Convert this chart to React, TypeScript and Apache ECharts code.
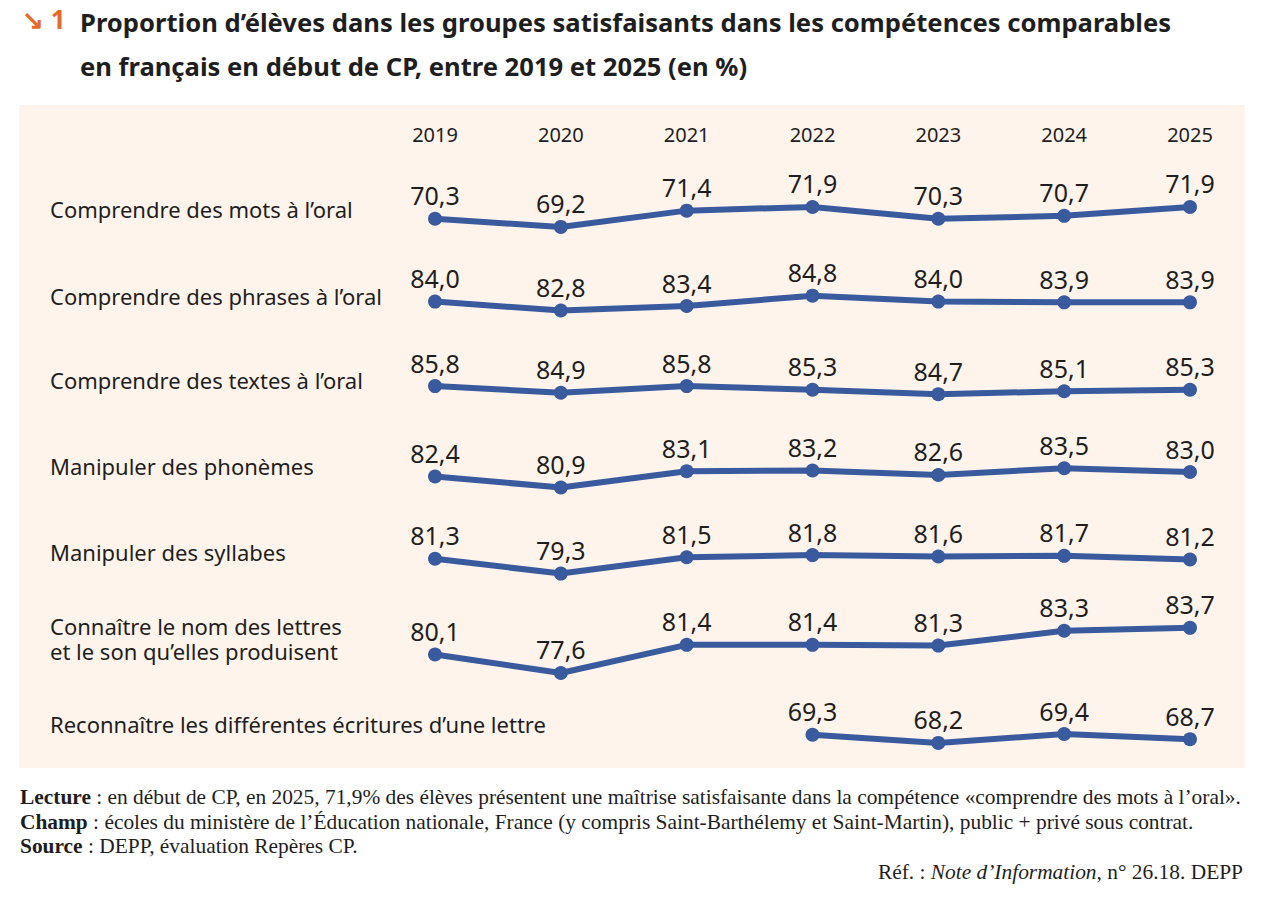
import React, { useEffect, useRef } from "react";
import * as echarts from "echarts";

// Years shown as columns
const years = ["2019", "2020", "2021", "2022", "2023", "2024", "2025"];

// Competences (one row each); a row label may hold several lines
const competences: string[][] = [
  ["Comprendre des mots à l’oral"],
  ["Comprendre des phrases à l’oral"],
  ["Comprendre des textes à l’oral"],
  ["Manipuler des phonèmes"],
  ["Manipuler des syllabes"],
  ["Connaître le nom des lettres", "et le son qu’elles produisent"],
  ["Reconnaître les différentes écritures d’une lettre"],
];

// Share of pupils in the satisfactory groups (%), by competence and year
const motsOral = [70.3, 69.2, 71.4, 71.9, 70.3, 70.7, 71.9];
const phrasesOral = [84.0, 82.8, 83.4, 84.8, 84.0, 83.9, 83.9];
const textesOral = [85.8, 84.9, 85.8, 85.3, 84.7, 85.1, 85.3];
const phonemes = [82.4, 80.9, 83.1, 83.2, 82.6, 83.5, 83.0];
const syllabes = [81.3, 79.3, 81.5, 81.8, 81.6, 81.7, 81.2];
const nomLettres = [80.1, 77.6, 81.4, 81.4, 81.3, 83.3, 83.7];
const ecrituresLettre: (number | null)[] = [null, null, null, 69.3, 68.2, 69.4, 68.7];

const rowValues = [motsOral, phrasesOral, textesOral, phonemes, syllabes, nomLettres, ecrituresLettre];

// Per-row layout: grid top, axis max (all rows share the same vertical scale)
const rowTops = [184, 272, 355, 435, 524, 596, 700];
const rowMax = [75, 88, 90, 88, 86, 88, 74];
const rowLabelY = [209, 296, 380, 466, 552, 638, 724];
const SPAN = 15;
const ROW_H = 111;
const LINE_GAP = 25;

const BLUE = "#3a5a9e";
const TEXT = "#1e1e1e";
const SANS = "'Noto Sans', 'Open Sans', sans-serif";
const SERIF = "'Liberation Serif', 'DejaVu Serif', serif";

const fmt = (v: number) => v.toFixed(1).replace(".", ",");

export default function App() {
  const ref = useRef<HTMLDivElement>(null);

  useEffect(() => {
    if (!ref.current) return;
    const chart = echarts.init(ref.current, null, { renderer: "svg" });

    const grids = rowTops.map((top) => ({
      left: 435,
      right: 90,
      top,
      height: ROW_H,
      containLabel: false,
    }));

    const xAxes = rowTops.map((_, i) => ({
      type: "category" as const,
      gridIndex: i,
      data: years,
      boundaryGap: false,
      position: "top" as const,
      show: i === 0,
      axisLine: { show: false },
      axisTick: { show: false },
      axisLabel: {
        show: i === 0,
        margin: 40,
        fontFamily: SANS,
        fontSize: 20,
        color: TEXT,
      },
    }));

    const yAxes = rowTops.map((_, i) => ({
      type: "value" as const,
      gridIndex: i,
      min: rowMax[i] - SPAN,
      max: rowMax[i],
      show: false,
    }));

    const series = rowValues.map((vals, i) => ({
      type: "line" as const,
      xAxisIndex: i,
      yAxisIndex: i,
      data: vals.map((v) => (v == null ? "-" : v)),
      symbol: "circle",
      symbolSize: 14,
      lineStyle: { color: BLUE, width: 6 },
      itemStyle: { color: BLUE },
      label: {
        show: true,
        position: "top" as const,
        distance: 4,
        fontFamily: SANS,
        fontSize: 25,
        color: TEXT,
        formatter: (p: any) => fmt(p.value as number),
      },
      silent: true,
    }));

    // Row labels, one text element per line, vertically centred on the row
    const rowLabels = competences.flatMap((lines, i) => {
      const first = rowLabelY[i] - ((lines.length - 1) * LINE_GAP) / 2;
      return lines.map((line, j) => ({
        type: "text" as const,
        left: 50,
        top: first + j * LINE_GAP - 11,
        style: {
          text: line,
          fontFamily: SANS,
          fontSize: 22,
          lineHeight: 22,
          fill: TEXT,
        },
        z: 10,
      }));
    });

    chart.setOption({
      animation: false,
      backgroundColor: "#ffffff",
      grid: grids,
      xAxis: xAxes,
      yAxis: yAxes,
      series,
      graphic: [
        {
          type: "rect",
          shape: { x: 19, y: 105, width: 1226, height: 663 },
          style: { fill: "#fef4ec" },
          z: -10,
          silent: true,
        },
        {
          type: "text",
          left: 22,
          top: 6,
          style: {
            text: "↘ 1",
            fontFamily: SANS,
            fontWeight: "bold",
            fontSize: 26,
            fill: "#e8692c",
          },
        },
        {
          type: "text",
          left: 80,
          top: 0,
          style: {
            text:
              "Proportion d’élèves dans les groupes satisfaisants dans les compétences comparables\nen français en début de CP, entre 2019 et 2025 (en %)",
            fontFamily: SANS,
            fontWeight: "bold",
            fontSize: 25.6,
            lineHeight: 44,
            fill: TEXT,
          },
        },
        ...rowLabels,
        {
          type: "text",
          left: 20,
          top: 785,
          style: {
            text:
              "{b|Lecture} : en début de CP, en 2025, 71,9% des élèves présentent une maîtrise satisfaisante dans la compétence «comprendre des mots à l’oral».\n" +
              "{b|Champ} : écoles du ministère de l’Éducation nationale, France (y compris Saint-Barthélemy et Saint-Martin), public + privé sous contrat.\n" +
              "{b|Source} : DEPP, évaluation Repères CP.",
            fontFamily: SERIF,
            fontSize: 21.4,
            lineHeight: 24.5,
            fill: TEXT,
            rich: {
              b: { fontFamily: SERIF, fontSize: 21.4, fontWeight: "bold", fill: TEXT, lineHeight: 24.5 },
            },
          },
        },
        {
          type: "text",
          right: 37,
          top: 861,
          style: {
            text: "Réf. : {i|Note d’Information,} n° 26.18. DEPP",
            fontFamily: SERIF,
            fontSize: 21.4,
            fill: TEXT,
            rich: {
              i: { fontFamily: SERIF, fontSize: 21.4, fontStyle: "italic", fill: TEXT },
            },
          },
        },
      ],
    });

    return () => chart.dispose();
  }, []);

  return (
    <div
      ref={ref}
      style={{ position: "absolute", left: 0, top: 0, width: 1280, height: 922 }}
    />
  );
}
